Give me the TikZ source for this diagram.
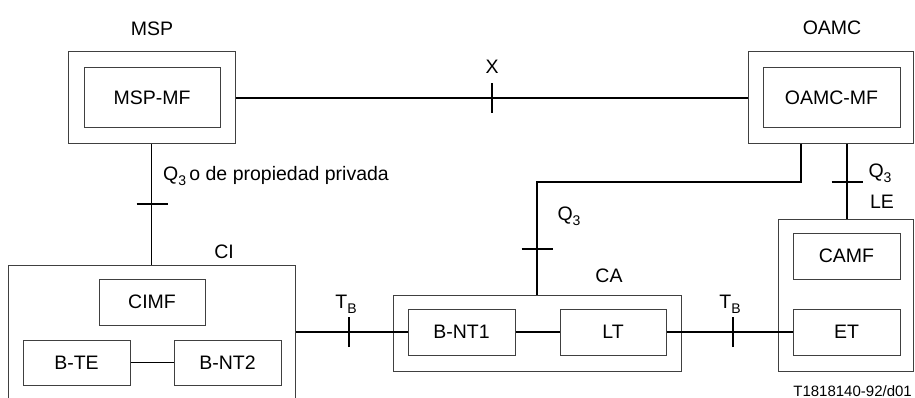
\documentclass[tikz,border=0pt]{standalone}
\usepackage{fontspec}
\setmainfont{Liberation Sans}
\begin{document}
\begin{tikzpicture}[x=1pt,y=-1pt,
  box/.style={draw=black!75,line width=1pt,inner sep=0pt,font=\fontsize{19.5}{23}\selectfont},
  wire/.style={line width=1.5pt},
  lbl/.style={inner sep=0pt,font=\fontsize{19.5}{23}\selectfont},
  tick/.style={line width=1.5pt}]
\useasboundingbox (0,0) rectangle (915,398);
\clip (0,0) rectangle (915,398);
\newcommand{\subsc}[1]{\raisebox{-5pt}{\fontsize{14}{14}\selectfont #1}}
% boxes
\node[box,minimum width=167pt,minimum height=92pt] (msp) at (151.5,98) {};
\node[box,minimum width=136pt,minimum height=60pt] (mspmf) at (152,98) {MSP-MF};
\node[box,minimum width=165pt,minimum height=92pt] (oamc) at (830.5,98) {};
\node[box,minimum width=137pt,minimum height=60pt] (oamcmf) at (831.5,98) {OAMC-MF};
\node[box,minimum width=287pt,minimum height=145pt] (ci) at (151.5,337.5) {};
\node[box,minimum width=106pt,minimum height=46pt] (cimf) at (152,302) {CIMF};
\node[box,minimum width=107pt,minimum height=45pt] (bte) at (76.5,362.5) {B-TE};
\node[box,minimum width=107pt,minimum height=45pt] (bnt2) at (227.5,362.5) {B-NT2};
\node[box,minimum width=288pt,minimum height=76pt] (ca) at (537,333) {};
\node[box,minimum width=107pt,minimum height=46pt] (bnt1) at (461.5,332) {B-NT1};
\node[box,minimum width=106pt,minimum height=46pt] (lt) at (613,332) {LT};
\node[box,minimum width=135pt,minimum height=152pt] (le) at (845.5,295) {};
\node[box,minimum width=107pt,minimum height=46pt] (camf) at (846.5,256) {CAMF};
\node[box,minimum width=107pt,minimum height=46pt] (et) at (846.5,332) {ET};
% labels
\node[lbl] (lmsp) at (152,29) {MSP};
\node[lbl] (loamc) at (832,28) {OAMC};
\node[lbl] (lx) at (492,67) {X};
\node[lbl,anchor=west] (lq1) at (163,176) {Q\subsc{3}\,o de propiedad privada};
\node[lbl] (lci) at (224,252) {CI};
\node[lbl] (ltb1) at (346,304) {T\subsc{B}};
\node[lbl] (lca) at (609,276) {CA};
\node[lbl] (ltb2) at (730,304) {T\subsc{B}};
\node[lbl] (lq2) at (569,216) {Q\subsc{3}};
\node[lbl] (lq3) at (880,173) {Q\subsc{3}};
\node[lbl] (lle) at (882,202) {LE};
\node[inner sep=0pt,anchor=north east,font=\fontsize{15}{18}\selectfont] (ref) at (912,385.5) {T1818140-92/d01};
% connectors
\coordinate (tx) at (492,98);
\draw[wire] (msp.east) -- (oamc.west);
\draw[tick] ([yshift=-15pt]tx) -- ([yshift=15pt]tx);
\coordinate (t1) at (152,204);
\draw[wire] (msp.south) -- (msp.south |- ci.north);
\draw[tick] ([xshift=-15.5pt]t1) -- ([xshift=15.5pt]t1);
\coordinate (cie) at (ci.east |- bnt1.west);
\draw[wire] (cie) -- (bnt1.west);
\coordinate (t2) at (349,332);
\draw[tick] ([yshift=-15pt]t2) -- ([yshift=15pt]t2);
\draw[wire] (bnt1.east) -- (lt.west);
\draw[wire] (bte.east) -- (bnt2.west);
\draw[wire] (lt.east) -- (et.west);
\coordinate (t3) at (733,332);
\draw[tick] ([yshift=-15pt]t3) -- ([yshift=15pt]t3);
\coordinate (oa1) at (801,144);
\coordinate (cat) at (537,295);
\draw[wire] (oa1) -- (801,182) -- (537,182) -- (cat);
\coordinate (t4) at (537,249);
\draw[tick] ([xshift=-15.5pt]t4) -- ([xshift=15.5pt]t4);
\coordinate (oa2) at (847,144);
\coordinate (let) at (847,219);
\draw[wire] (oa2) -- (let);
\coordinate (t5) at (847,182);
\draw[tick] ([xshift=-15.5pt]t5) -- ([xshift=15.5pt]t5);
\end{tikzpicture}
\end{document}
